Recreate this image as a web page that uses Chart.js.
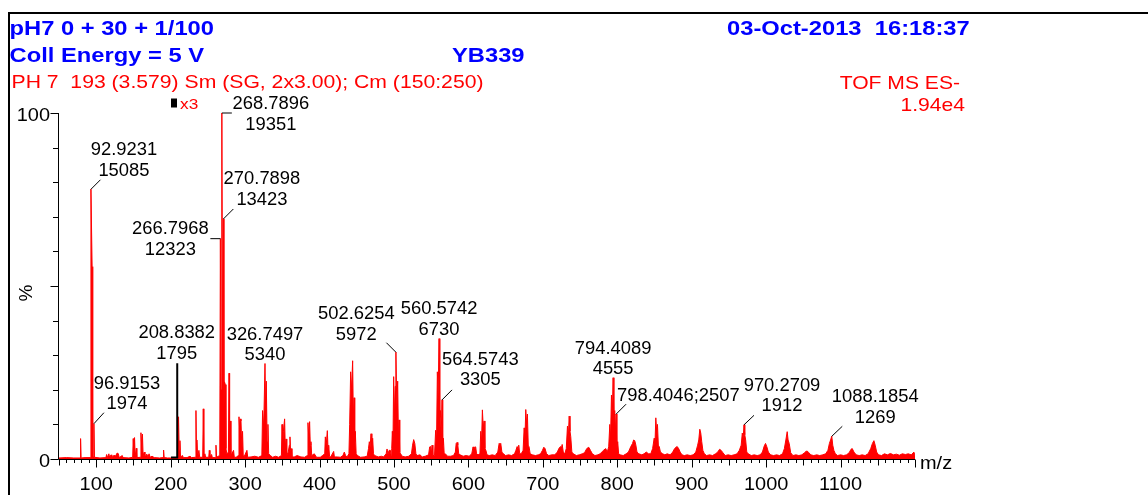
<!DOCTYPE html>
<html><head><meta charset="utf-8">
<script src="https://cdn.jsdelivr.net/npm/chart.js@4.4.1/dist/chart.umd.min.js"></script>
<style>html,body{margin:0;padding:0;background:#fff;overflow:hidden}canvas{display:block}</style>
</head><body>
<canvas id="c" width="1148" height="495"></canvas>
<script>
// ---- data (m/z, relative intensity %) ----
const mzValues = [
50,60,70,78.3,79.0,79.7,85,91.9,92.92,94.5,95.3,96.3,96.92,97.6,105,113,114,115,117,118,120,121,124,125,128,129.5,131,135,136,144,
149.0,149.7,150.6,151.5,152.3,153.8,154.6,159.4,160.1,161.0,162.1,163.0,164.5,165.5,168,169.5,171,172.5,175,178,185,189.8,190.5,191.3,196,200,
209.5,210.6,211.5,212.5,213.3,216,217,222,226,228,233.3,234.0,234.7,235.3,236.2,238,239,243.1,243.8,244.6,246,247,251.2,251.9,252.8,255,256,260.2,260.9,261.7,264,
266.0,266.8,267.7,268.79,269.7,270.79,271.6,272.3,273.5,274.3,275.5,277.6,278.4,279.2,280.1,281.0,284.5,285.5,288,291.0,291.8,292.6,293.5,294.5,295.5,296.6,297.5,299,302.5,303.5,308,313,318,
322.5,323.5,325.0,326.75,327.7,328.5,329.6,330.7,331.7,334,337,341,345,348.8,349.6,350.6,351.5,353.1,354.0,355.0,356,358,359.5,360.3,361.2,362.1,363,366,370,375,380,
383.6,384.5,385.6,386.7,387.6,388.5,389.5,393,396,401,404,407.0,407.8,409,410.5,411.4,412.3,413.5,415,419,420,424,428,431.5,433.3,435,437,
439.5,440.5,441.8,443.0,444.5,445.4,446.4,447.3,448.1,449.2,451,455,460,464,465.8,466.9,468.0,469.2,470.3,471.4,472.5,474,479,483,486,489.5,490.7,492.0,493.5,495.2,496.2,
497.0,497.8,498.7,499.6,500.6,501.6,502.63,503.8,505.0,506.0,506.8,507.8,509,511,515,520,523.5,525,526.5,528,529.5,531,535,538,542,546.5,548,549.2,550.2,551.2,552.3,554.5,
556.0,557.2,558.3,559.4,560.57,561.6,562.5,563.5,564.57,565.5,566.4,567.5,569,572,576,580,582.5,583.6,584.8,585.8,587,589,593,597,601,604.5,606.3,607.1,608,609.8,611,613,
615.5,616.6,617.7,618.8,620.0,621.1,622.2,623.5,625,628,632,636,639.5,641.3,642.4,643.5,645,647,650,654,658,662,663.8,665.5,666.7,667.6,669,671,
673.5,674.9,676.0,677.1,678.2,679.3,680.4,681.5,683,686,690,694,697,699.5,701.3,703,705,708,712,716,719.5,721.5,723.7,724.8,726,727.5,729.5,
731.5,733.1,734.2,735.4,736.5,737.5,739,741,745,749,753,756,759,761.7,764,766.5,770,774,777,780,782,784.6,786.5,
788.5,790.0,791.0,792.2,793.3,794.41,795.5,796.6,797.5,798.40,799.5,800.6,801.8,804,808,812,815,818,820.5,822.0,823.5,825,826.5,829,833,836,839,842,845,
847.5,849.6,850.6,851.8,852.9,854.0,855.2,856.5,858,861,864,867,871,874.5,877,879,880.5,882.5,884.5,887,890,894,898,902,
905.5,908,909.5,910.9,912.2,913.5,915,917,920,924,928,932,935,937.4,939.5,942,945,949,953,957,961,
964,966.5,968,969.2,970.27,971.3,972.5,974,976,980,984,988,992,995,997.5,999.2,1001,1003,1006,1010,1014,1018,1022,
1024.5,1026.5,1028.3,1029.5,1031,1033,1036,1040,1044,1048,1051.5,1053.5,1055.2,1057.5,1060,1064,1068,1072,1076,1080,
1083,1085,1086.6,1088.19,1089.5,1091,1093,1096,1100,1104,1108,1111.5,1114,1115.7,1118,1121,1125,1129,1133,1137,
1140.5,1142.8,1144.8,1146.5,1148.5,1151,1155,1159,1163,1167,1171,1175,1179,1183,1187,1191,1195,1198.5,1200
];
const intensityPct = [
0.3,0.4,0.3,0.3,5.9,0.3,0.4,0.4,78.0,55.6,0.6,0.6,10.2,0.5,0.3,0.4,1.3,0.4,1.5,0.5,1.2,0.4,1.1,0.4,1.7,1.6,0.4,1.0,0.4,0.3,
0.5,5.9,1.5,6.2,0.8,3.1,0.4,0.5,7.6,4.0,7.2,1.0,2.0,0.5,1.4,0.6,1.5,0.5,0.8,0.4,0.3,0.4,2.6,0.4,0.3,0.3,
0.4,12.2,2.5,5.3,0.6,1.0,0.4,0.4,0.8,0.4,0.5,14.0,2.0,5.5,0.6,2.5,0.5,0.5,14.5,0.6,1.5,0.5,0.5,2.5,0.5,1.3,0.4,0.4,4.0,0.5,0.8,
1.0,63.7,20.0,100,30,69.4,15,22.3,21.5,3.0,1.5,2.0,24.8,4.0,11.0,1.0,2.5,0.5,0.5,1.0,12.2,9.0,11.6,11.0,4.0,8.0,1.0,0.8,2.5,0.5,0.6,0.8,0.5,
1.0,14.0,9.0,27.6,12,22.5,5,10.0,1.5,1.0,0.5,0.8,0.5,1.0,10.0,4.0,8.0,11.6,3.0,5.8,1.0,2.0,4,6.4,2.0,3.0,0.6,0.6,1.0,0.6,0.5,
1.0,10.5,6.0,10.8,4.0,5.0,1.0,1.5,0.5,0.5,1.0,1.5,6.4,4.0,8.2,3.0,4.0,0.8,0.6,2.2,0.6,0.6,0.5,1.0,2.0,1.0,0.6,
1.5,10.0,25.2,20.0,28.4,12,17.7,5.0,8.0,1.5,1.0,0.5,0.6,0.8,3.0,5.0,3.5,7.3,3.0,6.0,1.5,1.0,0.6,0.8,0.6,1.5,2.9,1.5,2.5,2.5,1.0,
3.0,8.0,5.0,23.8,12,21,30.9,15,22.5,6.0,11.3,2.0,1.5,0.8,0.6,0.8,1.5,4.0,5.6,4.5,1.5,1.0,1.2,0.6,0.8,1.2,3.5,3.6,1.5,4.0,1.0,1.0,
8.3,5.0,25.2,18,34.8,12,14,7,17.1,4.0,6.0,1.5,1.5,0.8,0.8,1.0,2.0,4.5,4.8,4.0,1.5,1.2,0.8,1.0,0.8,1.5,3.5,2.5,3.4,3.5,1.5,1.2,
1.5,8.0,5.0,14.2,9.0,11.0,3.0,2.5,1.2,1.0,1.2,1.0,2.0,4.5,4.2,4.5,2.0,1.5,1.0,1.2,1.0,1.5,2.5,3.6,3.0,4.0,1.5,1.5,
2.5,9.0,6.0,14.3,10,13.0,4.0,3.5,1.5,1.2,1.0,1.2,1.5,2.5,3.4,3.0,1.5,1.0,1.2,1.2,2.0,3.0,3.6,3.0,4.2,2.0,1.5,
3.0,9.5,6.0,12.4,8.0,6.5,2.0,1.5,1.0,1.2,1.5,1.8,3.0,3.4,2.5,1.5,1.0,1.2,1.5,2.2,2.6,3.0,2.0,
3.5,10.0,6.0,18.5,12,23.5,10,14,8,13.0,3.0,5.0,1.5,1.2,1.0,1.5,2.0,3.5,4.5,5.5,5.3,4.0,2.0,1.5,1.2,1.5,2.0,1.5,1.5,
3.0,6.0,4.0,11.9,8.0,10.0,4.0,3.5,2.0,1.5,1.2,1.5,1.2,2.0,3.0,3.4,3.6,3.0,2.0,1.2,1.0,1.2,1.0,1.2,
2.0,4.0,5.5,8.6,7.5,5.0,2.5,1.5,1.0,1.2,1.0,1.5,2.0,2.8,2.5,1.8,1.0,1.2,1.0,1.2,1.5,
2.5,4.0,7.5,6.0,9.9,7.0,5.5,2.0,1.5,1.0,1.2,1.0,1.2,2.0,3.8,4.5,3.5,2.0,1.2,1.0,1.2,1.0,1.5,
3.0,5.5,7.9,5.5,4.5,1.8,1.0,1.2,1.0,1.2,1.8,2.2,2.3,1.8,1.2,1.0,1.2,1.0,1.2,1.5,
2.5,4.5,5.5,6.6,4.0,2.5,1.5,1.0,1.2,1.0,1.2,1.8,2.8,3.0,2.0,1.2,1.0,1.2,1.0,1.5,
3.0,4.5,5.3,4.0,2.0,1.2,1.0,1.5,1.2,1.6,1.2,1.4,1.1,1.5,1.3,1.5,1.2,2.0,1.0
];
// magnified (x3) marker trace drawn in black
const markerMz = [200.5, 208.84, 208.84];
const markerPct = [0.4, 0.4, 27.7];
// axis ticks
const xTickLabels = [100,200,300,400,500,600,700,800,900,1000,1100];
const yTickLabels = [0,100];
// labelled peaks
const basePeakCounts = 19351;
const labelMz = [92.9231,96.9153,208.8382,266.7968,268.7896,270.7898,326.7497,502.6254,560.5742,564.5743,794.4089,798.4046,970.2709,1088.1854];
const labelCounts = [15085,1974,1795,12323,19351,13423,5340,5972,6730,3305,4555,2507,1912,1269];
const labelGain = [1,1,3,1,1,1,1,1,1,1,1,1,1,1];

// label layout (pixel offsets from the peak apex)
const labelLayout = [
 {dx:33, dy:[-41,-20], lead:[9.5,-9.5]},
 {dx:33, dy:[-41,-21], lead:[10,-11]},
 {dx:-0.5, dy:[-31,-10]},
 {dx:-50, dy:[-10.6,10.4], lead:[-10,0]},
 {dx:49, dy:[-10.3,10.3], lead:[10,0]},
 {dx:38.6, dy:[-41,-20.6], lead:[10,-10]},
 {dx:0, dy:[-30,-9.5]},
 {dx:-39.6, dy:[-40,-19], lead:[-9.5,-9.5]},
 {dx:0, dy:[-31,-10.3]},
 {dx:38.3, dy:[-41.5,-20.8], lead:[10,-10]},
 {dx:0, dy:[-29.4,-9.4]},
 {dx:1, dy:[-19], lead:[10,-10], single:true},
 {dx:38, dy:[-40.4,-19.7], lead:[10,-9.5]},
 {dx:43.5, dy:[-40.2,-19.5], lead:[10.5,-10]}
];

const FONT = '"Liberation Sans", Arial, sans-serif';
function txt(ctx, s, x, y, size, weight, color, align, sx) {
  ctx.save();
  ctx.font = weight + ' ' + size + 'px ' + FONT;
  ctx.fillStyle = color; ctx.textAlign = align; ctx.textBaseline = 'alphabetic';
  ctx.translate(x, y); ctx.scale(sx, 1); ctx.fillText(s, 0, 0);
  ctx.restore();
}
function fitTxt(ctx, s, x, y, size, weight, color, width) {
  ctx.save();
  ctx.font = weight + ' ' + size + 'px ' + FONT;
  const w = ctx.measureText(s).width;
  ctx.restore();
  txt(ctx, s, x, y, size, weight, color, 'left', width / w);
}

const decor = {
  id: 'decor',
  afterDatasetsDraw(chart) {
    const ctx = chart.ctx, xs = chart.scales.x, ys = chart.scales.y;
    const a = chart.chartArea;
    ctx.save();
    // frame
    ctx.fillStyle = '#000';
    ctx.fillRect(8, 12, 1140, 2);
    ctx.fillRect(8, 12, 2, 483);
    // axes
    ctx.strokeStyle = '#000'; ctx.lineWidth = 1;
    const y0 = Math.round(ys.getPixelForValue(0)) + 0.5;
    const xL = Math.round(xs.getPixelForValue(xs.min)) - 0.5;
    ctx.beginPath();
    ctx.moveTo(xL, y0); ctx.lineTo(xs.getPixelForValue(xs.max), y0);
    ctx.moveTo(xL, y0); ctx.lineTo(xL, ys.getPixelForValue(100));
    // y ticks
    for (let v = 0; v <= 100; v += 10) {
      const py = Math.round(ys.getPixelForValue(v)) + 0.5;
      const len = (v % 50 === 0) ? 8 : 5.5;
      ctx.moveTo(xL - len, py); ctx.lineTo(xL, py);
    }
    // x ticks
    for (let v = 50; v <= 1200; v += 10) {
      const px = Math.round(xs.getPixelForValue(v)) + 0.5;
      const len = (v % 100 === 0) ? 8 : (v % 50 === 0 ? 6 : 3.5);
      ctx.moveTo(px, y0); ctx.lineTo(px, y0 + len);
    }
    ctx.stroke();
    // tick labels
    yTickLabels.forEach(v => txt(ctx, String(v), xL - 8.5, ys.getPixelForValue(v) + 1.5 + 6.8, 19, 'normal', '#000', 'right', 1.05));
    xTickLabels.forEach(v => txt(ctx, String(v), xs.getPixelForValue(v), 490, 19, 'normal', '#000', 'center', 1.05));
    txt(ctx, 'm/z', 920, 469, 19, 'normal', '#000', 'left', 1.05);
    ctx.save(); ctx.translate(32, 293); ctx.rotate(-Math.PI / 2);
    txt(ctx, '%', 0, 0, 19, 'normal', '#000', 'center', 1.0);
    ctx.restore();
    // header
    const blue = '#0000ff', red = '#ff0000';
    txt(ctx, 'pH7 0 + 30 + 1/100', 9.5, 34.5, 21, 'bold', blue, 'left', 1.13);
    txt(ctx, 'Coll Energy = 5 V', 9.5, 62, 21, 'bold', blue, 'left', 1.13);
    txt(ctx, 'YB339', 452, 62, 21, 'bold', blue, 'left', 1.13);
    txt(ctx, '03-Oct-2013  16:18:37', 727, 35, 21, 'bold', blue, 'left', 1.13);
    fitTxt(ctx, 'PH 7  193 (3.579) Sm (SG, 2x3.00); Cm (150:250)', 11.5, 87.5, 19, 'normal', red, 472);
    txt(ctx, 'TOF MS ES-', 960, 88.5, 19, 'normal', red, 'right', 1.11);
    txt(ctx, '1.94e4', 965, 111, 19, 'normal', red, 'right', 1.11);
    // x3 marker
    ctx.fillStyle = '#000';
    ctx.fillRect(171, 98.5, 6, 9);
    txt(ctx, 'x3', 180, 109, 15, 'normal', red, 'left', 1.15);
    // peak labels
    ctx.strokeStyle = '#000'; ctx.lineWidth = 1;
    labelMz.forEach((m, i) => {
      const L = labelLayout[i];
      const px = xs.getPixelForValue(m);
      const py = ys.getPixelForValue(labelCounts[i] / basePeakCounts * 100 * labelGain[i]);
      if (L.lead) {
        ctx.beginPath(); ctx.moveTo(px, py); ctx.lineTo(px + L.lead[0], py + L.lead[1]); ctx.stroke();
      }
      if (L.single) {
        txt(ctx, m.toFixed(4) + ';' + labelCounts[i], px + L.dx, py + L.dy[0] + 6.3, 17.5, 'normal', '#000', 'left', 1.05);
      } else {
        txt(ctx, m.toFixed(4), px + L.dx, py + L.dy[0] + 6.3, 17.5, 'normal', '#000', 'center', 1.05);
        txt(ctx, String(labelCounts[i]), px + L.dx, py + L.dy[1] + 6.3, 17.5, 'normal', '#000', 'center', 1.05);
      }
    });
    ctx.restore();
  }
};

new Chart(document.getElementById('c'), {
  type: 'line',
  data: {
    datasets: [
      {
        data: mzValues.map((m, i) => ({x: m, y: intensityPct[i]})),
        borderColor: '#ff0000', backgroundColor: '#ff0000', borderWidth: 1,
        fill: 'origin', pointRadius: 0, tension: 0, order: 2
      },
      {
        data: markerMz.map((m, i) => ({x: m, y: markerPct[i]})),
        borderColor: '#000', borderWidth: 2, fill: false, pointRadius: 0, tension: 0, order: 1
      }
    ]
  },
  options: {
    responsive: false, devicePixelRatio: 1, animation: false,
    layout: {padding: {left: 59, right: 233, top: 113, bottom: 36}},
    plugins: {legend: {display: false}, tooltip: {enabled: false}},
    scales: {
      x: {type: 'linear', min: 50, max: 1200, display: false},
      y: {type: 'linear', min: 0, max: 100, display: false}
    }
  },
  plugins: [decor]
});
</script>
</body></html>
